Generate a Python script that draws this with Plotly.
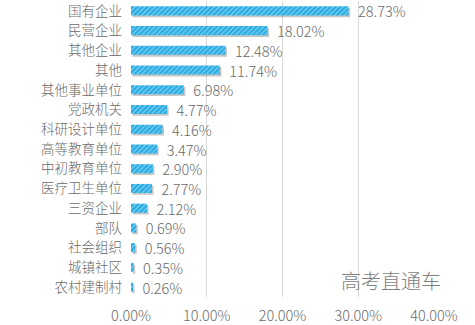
import plotly.graph_objects as go

categories = ["国有企业", "民营企业", "其他企业", "其他", "其他事业单位", "党政机关", "科研设计单位",
              "高等教育单位", "中初教育单位", "医疗卫生单位", "三资企业", "部队", "社会组织", "城镇社区", "农村建制村"]
values = [28.73, 18.02, 12.48, 11.74, 6.98, 4.77, 4.16, 3.47, 2.90, 2.77, 2.12, 0.69, 0.56, 0.35, 0.26]
x_ticks = [0, 10, 20, 30, 40]
x_tick_labels = ["0.00%", "10.00%", "20.00%", "30.00%", "40.00%"]

font_family = "Noto Sans CJK SC"
gray = "#6a6a6a"
bar_w = 0.46

fig = go.Figure()
# soft shadow behind the bars
fig.add_trace(go.Bar(
    x=values, y=categories, orientation="h", base=0.2,
    width=bar_w, offset=-bar_w / 2 + 0.09,
    marker=dict(color="rgba(0,0,0,0.22)", line=dict(width=0)),
    hoverinfo="skip",
))
fig.add_trace(go.Bar(
    x=values, y=categories, orientation="h",
    width=bar_w, offset=-bar_w / 2,
    marker=dict(color="#25ABE3", line=dict(width=0),
                pattern=dict(shape="/", fgcolor="white", size=3.5, solidity=0.3)),
    text=["\u00a0\u00a0" + f"{v:.2f}%" for v in values], textposition="outside",
    constraintext="none",
    textfont=dict(size=14.5, color=gray, family=font_family, weight=300),
    cliponaxis=False,
))
fig.update_layout(
    width=475, height=325,
    margin=dict(l=131, r=41, t=0, b=27),
    paper_bgcolor="white", plot_bgcolor="white",
    barmode="overlay", showlegend=False,
    font=dict(family=font_family, color=gray, size=13, weight=300),
    xaxis=dict(range=[0, 40], tickvals=x_ticks, ticktext=x_tick_labels,
               showgrid=True, gridcolor="#d9d9d9", gridwidth=1, zeroline=False,
               showline=False, ticks="", ticklabelstandoff=8,
               tickfont=dict(size=14.5, color=gray, weight=300)),
    yaxis=dict(autorange="reversed", showgrid=False, zeroline=False, showline=False,
               ticks="", ticklabelstandoff=8, tickfont=dict(size=13.5, color=gray, weight=300)),
    annotations=[dict(text="高考直通车", xref="paper", yref="paper", x=1.03, y=0.0,
                      xanchor="right", yanchor="bottom", showarrow=False,
                      font=dict(size=20, color="#7f7f7f", family=font_family, weight=300))],
)
fig.write_html("out.html")
